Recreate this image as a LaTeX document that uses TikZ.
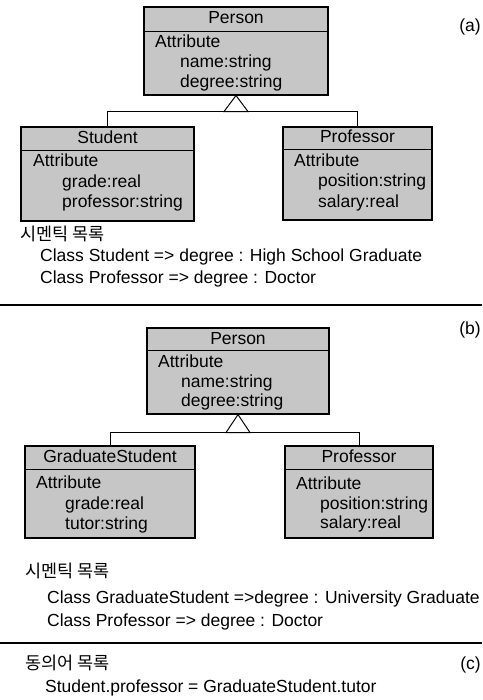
\documentclass[tikz,border=0pt]{standalone}
\usepackage{fontspec}
\setmainfont{Liberation Sans}
\newfontfamily\kr{Noto Sans CJK KR}
\begin{document}
\begin{tikzpicture}[x=1pt,y=-1pt]
    \tikzstyle{classbox}=[rectangle,draw=black,line width=1.1pt,fill=gray!45,inner sep=0pt]
    \tikzstyle{txt}=[anchor=west,inner sep=0pt,text height=12pt,text depth=3.5pt,font=\fontsize{17.5}{20}\selectfont]
    \tikzstyle{classname}=[txt,anchor=center]
    \tikzstyle{genline}=[line width=1pt]
    \tikzstyle{divider}=[line width=1.6pt]
    \useasboundingbox (0,0) rectangle (482,700);

    \node[classbox, minimum width=184pt, minimum height=88pt] (personA) at (236,51) {};
    \node[classbox, minimum width=173pt, minimum height=94pt] (studentA) at (107.5,174) {};
    \node[classbox, minimum width=149pt, minimum height=93pt] (professorA) at (357.5,173.5) {};
    \draw[line width=1.1pt] ([yshift=-25pt]personA.north west) -- ([yshift=-25pt]personA.north east);
    \draw[line width=1.1pt] ([yshift=-24pt]studentA.north west) -- ([yshift=-24pt]studentA.north east);
    \draw[line width=1.1pt] ([yshift=-23pt]professorA.north west) -- ([yshift=-23pt]professorA.north east);
    \node[classname] (personAname) at (236,19.5) {Person};
    \node[txt] (personAattr) at (155,43) {Attribute};
    \node[txt] (personAa1) at (180,63) {name:string};
    \node[txt] (personAa2) at (180,83) {degree:string};
    \node[classname] (studentAname) at (107.5,139) {Student};
    \node[txt] (studentAattr) at (33,162) {Attribute};
    \node[txt] (studentAa1) at (62,183) {grade:real};
    \node[txt] (studentAa2) at (62,203) {professor:string};
    \node[classname] (professorAname) at (357.5,138.5) {Professor};
    \node[txt] (professorAattr) at (294,162) {Attribute};
    \node[txt] (professorAa1) at (318,182) {position:string};
    \node[txt] (professorAa2) at (318,203) {salary:real};
    \coordinate (busA) at ([yshift=-16pt]personA.south);
    \draw[genline] (studentA.north) |- (busA) -| (professorA.north);
    \draw[genline, fill=white] (personA.south) -- ++(-12,16) -- ++(24,0) -- cycle;
    \node[txt, anchor=east] (labelA) at (481,27) {(a)};
    \node[txt] (semA) at (20,236) {\kr 시멘틱 목록};
    \node[txt] (semA1) at (40,257) {Class Student => degree : High School Graduate};
    \node[txt] (semA2) at (40,279) {Class Professor => degree : Doctor};

    \draw[divider] (0,305) -- (482,305);

    \node[classbox, minimum width=182pt, minimum height=86pt] (personB) at (238,371) {};
    \node[classbox, minimum width=170pt, minimum height=92pt] (gradB) at (110,492) {};
    \node[classbox, minimum width=148pt, minimum height=92pt] (professorB) at (359,492) {};
    \draw[line width=1.1pt] ([yshift=-23pt]personB.north west) -- ([yshift=-23pt]personB.north east);
    \draw[line width=1.1pt] ([yshift=-24pt]gradB.north west) -- ([yshift=-24pt]gradB.north east);
    \draw[line width=1.1pt] ([yshift=-24pt]professorB.north west) -- ([yshift=-24pt]professorB.north east);
    \node[classname] (personBname) at (238,340) {Person};
    \node[txt] (personBattr) at (158,363) {Attribute};
    \node[txt] (personBa1) at (181,383) {name:string};
    \node[txt] (personBa2) at (181,402) {degree:string};
    \node[classname] (gradBname) at (110,458) {GraduateStudent};
    \node[txt] (gradBattr) at (36,484) {Attribute};
    \node[txt] (gradBa1) at (65,505) {grade:real};
    \node[txt] (gradBa2) at (65,525) {tutor:string};
    \node[classname] (professorBname) at (359,458) {Professor};
    \node[txt] (professorBattr) at (296,485) {Attribute};
    \node[txt] (professorBa1) at (320,505) {position:string};
    \node[txt] (professorBa2) at (320,524) {salary:real};
    \coordinate (busB) at ([yshift=-18pt]personB.south);
    \draw[genline] (gradB.north) |- (busB) -| (professorB.north);
    \draw[genline, fill=white] (personB.south) -- ++(-12,18) -- ++(24,0) -- cycle;
    \node[txt, anchor=east] (labelB) at (481,330) {(b)};
    \node[txt] (semB) at (25,573) {\kr 시멘틱 목록};
    \node[txt] (semB1) at (47,599) {Class GraduateStudent =>degree : University Graduate};
    \node[txt] (semB2) at (47,622) {Class Professor => degree : Doctor};

    \draw[divider] (0,643) -- (482,643);

    \node[txt] (synC) at (25,665) {\kr 동의어 목록};
    \node[txt, anchor=east] (labelC) at (481,665) {(c)};
    \node[txt] (synC1) at (45,688) {Student.professor = GraduateStudent.tutor};

\end{tikzpicture}
\end{document}
